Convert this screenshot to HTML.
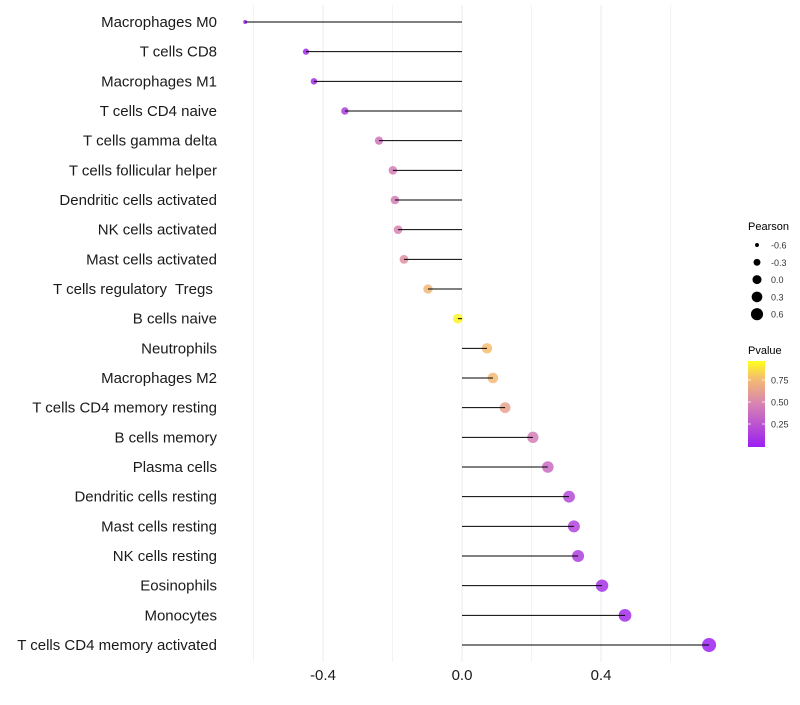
<!DOCTYPE html>
<html><head><meta charset="utf-8"><style>
body{margin:0;background:#fff;font-family:"Liberation Sans",sans-serif}
text{white-space:pre}
</style></head><body>
<svg id="c" width="800" height="700" xmlns="http://www.w3.org/2000/svg">
<defs><linearGradient id="pg" x1="0" y1="1" x2="0" y2="0">
<stop offset="0" stop-color="#9b1ff2"/><stop offset="0.5" stop-color="#d783b2"/><stop offset="0.8" stop-color="#f5be6e"/><stop offset="1" stop-color="#ffff1a"/></linearGradient></defs>
</svg>
<script>
const categories=["Macrophages M0","T cells CD8","Macrophages M1","T cells CD4 naive","T cells gamma delta","T cells follicular helper","Dendritic cells activated","NK cells activated","Mast cells activated","T cells regulatory  Tregs ","B cells naive","Neutrophils","Macrophages M2","T cells CD4 memory resting","B cells memory","Plasma cells","Dendritic cells resting","Mast cells resting","NK cells resting","Eosinophils","Monocytes","T cells CD4 memory activated"];
const pearson=[-0.624,-0.449,-0.426,-0.337,-0.239,-0.199,-0.193,-0.184,-0.167,-0.098,-0.012,0.072,0.089,0.124,0.204,0.247,0.308,0.322,0.334,0.403,0.469,0.711];
const pvalue=[0.01,0.05,0.06,0.15,0.42,0.47,0.47,0.5,0.57,0.76,0.97,0.8,0.78,0.66,0.47,0.38,0.22,0.18,0.16,0.1,0.07,0.01];
const xTicks=[-0.4,0.0,0.4];
const xTickLabels=["-0.4","0.0","0.4"];
const gridVals=[-0.6,-0.4,-0.2,0,0.2,0.4,0.6];
const legendSizes=[-0.6,-0.3,0.0,0.3,0.6];
const legendSizeLabels=["-0.6","-0.3","0.0","0.3","0.6"];
const legendP=[0.25,0.5,0.75];
const legendPLabels=["0.25","0.50","0.75"];

const svg=document.getElementById('c');const NS="http://www.w3.org/2000/svg";
function mk(t,a,p){const e=document.createElementNS(NS,t);for(const k in a)e.setAttribute(k,a[k]);(p||svg).appendChild(e);return e;}
const xS=v=>462+v*347.5;
const yS=i=>22+i*(623/21);
const rS=v=>Math.sqrt(Math.max(2,25+33.8*v));
const stops=[[0,[155,31,242]],[0.5,[215,131,178]],[0.8,[245,190,110]],[1,[255,255,26]]];
function col(p){for(let i=1;i<stops.length;i++){if(p<=stops[i][0]){const a=stops[i-1],b=stops[i],t=(p-a[0])/(b[0]-a[0]);return 'rgb('+a[1].map((c,j)=>Math.round(c+(b[1][j]-c)*t)).join(',')+')';}}return 'rgb(255,255,26)';}

gridVals.forEach(g=>{const l=mk('line',{x1:xS(g),x2:xS(g),y1:5,y2:662,stroke:'#ebebeb','stroke-width':xTicks.includes(g)?1:0.6});

});
categories.forEach((c,i)=>{const y=yS(i);
const pt=mk('circle',{cx:xS(pearson[i]),cy:y,r:rS(pearson[i]),fill:col(pvalue[i]),'fill-opacity':0.85});


const ln=mk('line',{x1:xS(0),x2:xS(pearson[i]),y1:y,y2:y,stroke:'#000','stroke-width':1});


const t=mk('text',{x:217,y:y+5,'text-anchor':'end','font-size':15,fill:'#1a1a1a'});t.textContent=c;

});
xTicks.forEach((v,i)=>{const t=mk('text',{x:xS(v),y:680,'text-anchor':'middle','font-size':15,fill:'#1a1a1a'});t.textContent=xTickLabels[i];

});
let t=mk('text',{x:748,y:230,'font-size':11,fill:'#000'});t.textContent='Pearson';


legendSizes.forEach((v,i)=>{const y=245+i*17.3;
const c=mk('circle',{cx:757,cy:y,r:rS(v)*0.9,fill:'#000'});


const tt=mk('text',{x:771,y:y+3.5,'font-size':9,fill:'#333'});tt.textContent=legendSizeLabels[i];

});
t=mk('text',{x:748,y:354,'font-size':11,fill:'#000'});t.textContent='Pvalue';


const bar=mk('rect',{x:748,y:361,width:17,height:86,fill:'url(#pg)'});


const pY=p=>446-p*(88);
legendP.forEach((p,i)=>{const y=pY(p);
mk('line',{x1:748,x2:751,y1:y,y2:y,stroke:'#fff','stroke-width':0.8});
mk('line',{x1:762,x2:765,y1:y,y2:y,stroke:'#fff','stroke-width':0.8});
const tt=mk('text',{x:771,y:y+3.5,'font-size':9,fill:'#333'});tt.textContent=legendPLabels[i];

});
</script>
</body></html>
